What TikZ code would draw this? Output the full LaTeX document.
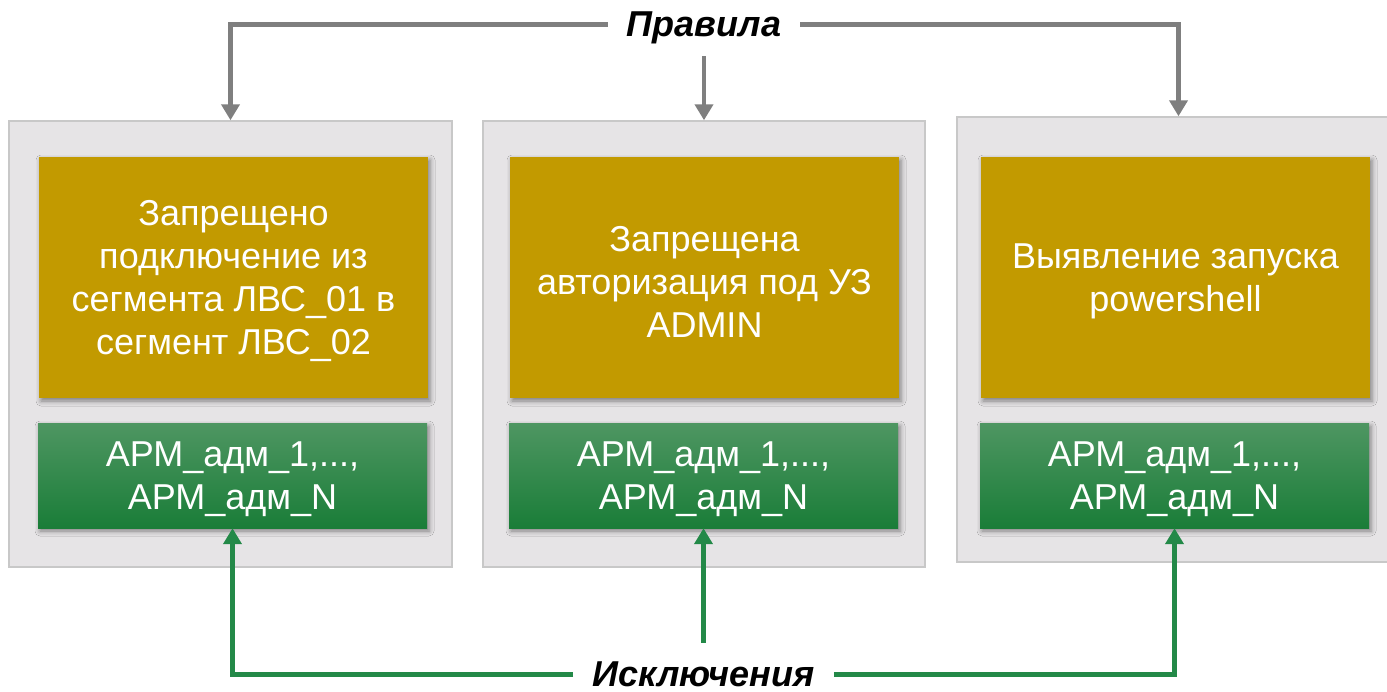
\documentclass[tikz,border=0pt]{standalone}
\usepackage{fontspec}
\setmainfont{Liberation Sans}
\usetikzlibrary{arrows.meta,shadows.blur}

\definecolor{panelfill}{RGB}{230,228,230}
\definecolor{panelline}{RGB}{200,200,200}
\definecolor{gold}{RGB}{194,154,0}
\definecolor{greentop}{RGB}{78,150,98}
\definecolor{greenmid}{RGB}{32,132,62}
\definecolor{greenbot}{RGB}{26,125,56}
\definecolor{arrowgray}{RGB}{127,127,127}
\definecolor{arrowgreen}{RGB}{35,137,72}

\newcommand{\boxfont}{\fontsize{36}{43}\selectfont}
\newcommand{\headfont}{\fontsize{36}{40}\selectfont\bfseries\itshape}

\begin{document}
\begin{tikzpicture}[x=1pt,y=-1pt,
  panel/.style={draw=panelline, line width=1.5pt, fill=panelfill,
    minimum width=443pt, minimum height=446pt, inner sep=0pt},
  boxshadow/.style={blur shadow={shadow xshift=2pt, shadow yshift=-3pt,
    shadow blur radius=5pt, shadow opacity=45}},
  rulebox/.style={boxshadow, fill=gold, minimum width=389pt, minimum height=241pt,
    inner sep=0pt},
  excbox/.style={boxshadow, top color=greentop, middle color=greenmid, bottom color=greenbot,
    minimum width=389pt, minimum height=105pt, inner sep=0pt},
  boxtext/.style={text=white, align=center, font=\boxfont, inner sep=0pt, yshift=-4pt},
  heading/.style={font=\headfont, text height=26pt, text depth=3pt,
    inner xsep=19pt, inner ysep=17pt},
  grayarrow/.style={draw=arrowgray, line width=4.5pt,
    -{Triangle[width=18pt,length=16pt]}},
  greenarrow/.style={draw=arrowgreen, line width=4.5pt,
    -{Triangle[width=18pt,length=16pt]}}
]
\clip (0,0) rectangle (1387,691);
\fill[white] (0,0) rectangle (1387,691);

% outer panels
\node[panel] (L) at (230.5,344) {};
\node[panel, minimum width=442pt] (M) at (704,344) {};
\node[panel, minimum height=445pt] (R) at (1178.5,339.5) {};

% rule boxes
\node[rulebox] (RL) at (233.5,277.5) {};
\node[rulebox] (RM) at (704.5,277.5) {};
\node[rulebox] (RR) at (1175.5,277.5) {};
\node[boxtext] (RLt) at (RL) {Запрещено\\подключение из\\сегмента ЛВС\_01 в\\сегмент ЛВС\_02};
\node[boxtext] (RMt) at (RM) {Запрещена\\авторизация под УЗ\\ADMIN};
\node[boxtext] (RRt) at (RR) {Выявление запуска\\powershell};

% exception boxes
\node[excbox] (GL) at (232.5,475.5) {};
\node[excbox] (GM) at (703.5,475.5) {};
\node[excbox] (GR) at (1174.5,475.5) {};
\node[boxtext] (GLt) at (GL) {АРМ\_адм\_1,...,\\АРМ\_адм\_N};
\node[boxtext] (GMt) at (GM) {АРМ\_адм\_1,...,\\АРМ\_адм\_N};
\node[boxtext] (GRt) at (GR) {АРМ\_адм\_1,...,\\АРМ\_адм\_N};

% headings
\node[heading] (P) at (704,24.5) {Правила};
\node[heading] (E) at (703.5,674.5) {Исключения};

% rules go down to each panel
\draw[grayarrow] (P.west) -| (L.north);
\draw[grayarrow] (P.south) -- (M.north);
\draw[grayarrow] (P.east) -| (R.north);

% exceptions go up to each green box
\draw[greenarrow] (E.west) -| (GL.south);
\draw[greenarrow] (E.north) -- (GM.south);
\draw[greenarrow] (E.east) -| (GR.south);
\end{tikzpicture}
\end{document}
